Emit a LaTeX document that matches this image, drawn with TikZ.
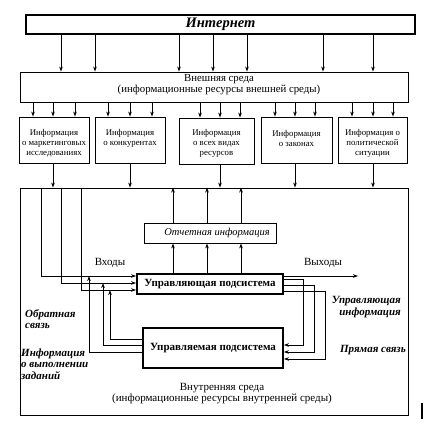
\documentclass[tikz,border=0pt]{standalone}
\usepackage{fontspec}
\setmainfont{Liberation Serif}
\usetikzlibrary{arrows.meta}
\begin{document}
\begin{tikzpicture}[x=1pt,y=-1pt,
  box/.style={draw, line width=0.9pt, inner sep=0pt, align=center},
  infobox/.style={box, minimum height=46pt},
  infotext/.style={inner sep=0pt, align=center, font=\fontsize{8.8}{10}\selectfont},
  thickbox/.style={draw, line width=1.8pt, inner sep=0pt, align=center, font=\fontsize{11}{12}\selectfont\bfseries},
  arr/.style={line width=0.8pt, -{Stealth[length=5pt,width=3.6pt]}},
  lbl/.style={font=\fontsize{11}{11.5}\selectfont\bfseries\itshape, inner sep=0pt},
  plain/.style={font=\fontsize{11}{11}\selectfont, inner sep=0pt, align=center}]
\useasboundingbox (0,0) rectangle (437,428);
% boxes
\node[box, line width=1.1pt, minimum width=389pt, minimum height=19pt, font=\fontsize{14.5}{15}\selectfont\bfseries\itshape] (inet) at (220.5,24.5) {Интернет};
\node[box, minimum width=388pt, minimum height=30pt] (ext) at (214,87) {};
\node[plain, font=\fontsize{10.8}{11}\selectfont] (extlbl) at (219,85) {Внешняя среда\\(информационные ресурсы внешней среды)};
\node[infobox, minimum width=70pt] (i1) at (54,140) {};
\node[infobox, minimum width=70pt] (i2) at (130,140) {};
\node[infobox, minimum width=75pt] (i3) at (216.5,141) {};
\node[infobox, minimum width=71pt] (i4) at (296.5,140) {};
\node[infobox, minimum width=69pt] (i5) at (372.5,140) {};
\node[infotext] (t1) at (54,143) {Информация\\о маркетинговых\\исследованиях};
\node[infotext] (t2) at (130,138) {Информация\\о конкурентах};
\node[infotext] (t3) at (216.5,143) {Информация\\о всех видах\\ресурсов};
\node[infotext] (t4) at (296.5,138) {Информация\\о законах};
\node[infotext] (t5) at (372.5,143) {Информация о\\политической\\ситуации};
\node[box, minimum width=388pt, minimum height=227pt] (int) at (214,301.5) {};
\node[box, minimum width=132pt, minimum height=20pt] (rep) at (210,233) {};
\node[plain, font=\fontsize{10.5}{12}\selectfont\itshape] (replbl) at (217,233) {Отчетная информация};
\node[thickbox, minimum width=146pt, minimum height=20pt] (ctl) at (210,284) {Управляющая подсистема};
\node[thickbox, minimum width=140pt, minimum height=40pt] (mgd) at (213,348) {Управляемая подсистема};
% texts
\node[plain] (intlbl) at (222,394) {Внутренняя среда\\(информационные ресурсы внутренней среды)};
\node[plain] (inp) at (110,263) {Входы};
\node[plain] (outp) at (323,263) {Выходы};
\node[lbl, anchor=west, align=left] (fb) at (25,319) {Обратная\\связь};
\node[lbl, anchor=west, align=left] (task) at (21,364) {Информация\\о выполнении\\заданий};
\node[lbl, anchor=east, align=right] (ctlinfo) at (401,307) {Управляющая\\информация};
\node[lbl, anchor=east] (direct) at (406,350) {Прямая связь};
% arrows Internet -> external
\foreach \x in {61,95,179,213,247,323,373}
  \draw[arr] (\x,0 |- inet.south) -- (\x,0 |- ext.north);
% external -> info boxes
\foreach \x in {33,53,75} \draw[arr] (\x,0 |- ext.south) -- (\x,0 |- i1.north);
\foreach \x in {108,130,152} \draw[arr] (\x,0 |- ext.south) -- (\x,0 |- i2.north);
\foreach \x in {200,220,240} \draw[arr] (\x,0 |- ext.south) -- (\x,0 |- i3.north);
\foreach \x in {275,295,315} \draw[arr] (\x,0 |- ext.south) -- (\x,0 |- i4.north);
\foreach \x in {352,373,393} \draw[arr] (\x,0 |- ext.south) -- (\x,0 |- i5.north);
% info boxes -> internal
\draw[arr] (53,0 |- i1.south) -- (53,0 |- int.north);
\draw[arr] (130,0 |- i2.south) -- (130,0 |- int.north);
\draw[arr] (220,0 |- i3.south) -- (220,0 |- int.north);
\draw[arr] (295,0 |- i4.south) -- (295,0 |- int.north);
\draw[arr] (373,0 |- i5.south) -- (373,0 |- int.north);
% inputs
\draw[arr] (41,0 |- int.north) |- (ctl.west |- 0,276);
\draw[arr] (61,0 |- int.north) |- (ctl.west |- 0,283);
\draw[arr] (81,0 |- int.north) |- (ctl.west |- 0,290);
% output
\coordinate (outend) at (358,276);
\draw[arr] (ctl.east |- 0,276) -- (outend);
% reports
\foreach \x in {173,207,241} {
  \draw[arr] (\x,0 |- ctl.north) -- (\x,0 |- rep.south);
  \draw[arr] (\x,0 |- rep.north) -- (\x,0 |- int.north);
}
% feedback (left)
\coordinate (j1) at (89,276);
\coordinate (j2) at (103,283);
\coordinate (j3) at (110,290);
\draw[arr] (mgd.west |- 0,352) -| (j1);
\draw[arr] (mgd.west |- 0,345) -| (j2);
\draw[arr] (mgd.west |- 0,339) -| (j3);
% direct link (right)
\draw[arr] (ctl.east |- 0,279) -| (303,345) -- (mgd.east |- 0,345);
\draw[arr] (ctl.east |- 0,285) -| (314,352) -- (mgd.east |- 0,352);
\draw[arr] (ctl.east |- 0,291) -| (325,359) -- (mgd.east |- 0,359);
% stray mark
\draw[line width=1.6pt] (422,403) -- (422,419);
\end{tikzpicture}
\end{document}
